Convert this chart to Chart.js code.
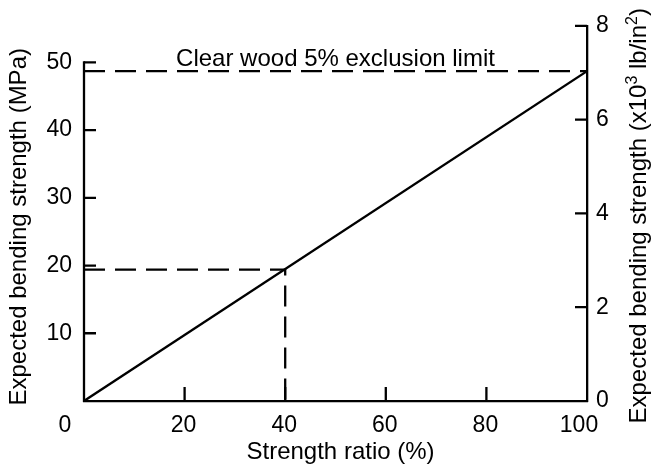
<!DOCTYPE html>
<html>
<head>
<meta charset="utf-8">
<script src="https://cdn.jsdelivr.net/npm/chart.js@4"></script>
<style>
  html, body { margin: 0; padding: 0; background: #fff; }
  #wrap { width: 651px; height: 468px; }
</style>
</head>
<body>
<div id="wrap"><canvas id="chart" width="651" height="468"></canvas></div>
<script>
// =============================
// Data
// =============================
const strengthRatio = [0, 100];
const bendingMPa = [0, 48.7];
const exclusionX = [0, 100];
const exclusionY = [48.7, 48.7];
const exampleX = [0, 40, 40];
const exampleY = [19.4, 19.4, 0];

const xTicks = [0, 20, 40, 60, 80, 100];
const mpaTicks = [10, 20, 30, 40, 50];
const ksiTicks = [0, 2, 4, 6, 8];

const noteText = "Clear wood 5% exclusion limit";
const xTitle = "Strength ratio (%)";
const leftTitle = "Expected bending strength (MPa)";
// right title pieces: [text, superscript?]
const rightTitle = [["Expected bending strength (x10", false], ["3", true], [" lb/in", false], ["2", true], [")", false]];

const FONT = '"Liberation Sans", Arial, Helvetica, sans-serif';
const pts = (xs, ys) => xs.map((v, i) => ({ x: v, y: ys[i] }));

// =============================
// Extra drawing: inward ticks, short left axis, titles, note
// =============================
const axisExtras = {
  id: "axisExtras",
  afterDraw(chart) {
    const { ctx, chartArea: a, scales } = chart;
    const x = scales.x, y = scales.y, y2 = scales.y2;
    ctx.save();
    ctx.strokeStyle = "#000";
    ctx.lineWidth = 2.3;

    // left axis line only up to 50 MPa
    ctx.beginPath();
    ctx.moveTo(a.left, y.getPixelForValue(0) + 1);
    ctx.lineTo(a.left, y.getPixelForValue(50) - 1);
    ctx.stroke();

    // inward tick marks
    ctx.beginPath();
    mpaTicks.forEach(v => {
      const py = y.getPixelForValue(v);
      ctx.moveTo(a.left, py);
      ctx.lineTo(a.left + 12, py);
    });
    xTicks.slice(1, -1).forEach(v => {
      const px = x.getPixelForValue(v);
      ctx.moveTo(px, a.bottom);
      ctx.lineTo(px, a.bottom - 14);
    });
    ksiTicks.slice(1).forEach(v => {
      const py = y2.getPixelForValue(v);
      ctx.moveTo(a.right, py);
      ctx.lineTo(a.right - 12, py);
    });
    ctx.stroke();

    ctx.fillStyle = "#000";

    // x tick labels (corner ones nudged left like the original)
    ctx.font = "23px " + FONT;
    ctx.textAlign = "center";
    ctx.textBaseline = "middle";
    xTicks.forEach(v => {
      let dx = -1;
      if (v === 0) dx = -19;
      if (v === 100) dx = -8;
      ctx.fillText(String(v), x.getPixelForValue(v) + dx, a.bottom + 25);
    });

    // note above exclusion line
    ctx.font = "24px " + FONT;
    ctx.textBaseline = "alphabetic";
    ctx.fillText(noteText, x.getPixelForValue(50), y.getPixelForValue(exclusionY[0]) - 5);

    // x title
    ctx.fillText(xTitle, x.getPixelForValue(51), a.bottom + 58);

    // left title
    ctx.save();
    ctx.translate(26, a.top + 201);
    ctx.rotate(-Math.PI / 2);
    ctx.textAlign = "center";
    ctx.fillText(leftTitle, 0, 0);
    ctx.restore();

    // right title with superscripts
    ctx.save();
    ctx.translate(a.right + 59, a.top + 190);
    ctx.rotate(-Math.PI / 2);
    ctx.textAlign = "left";
    const big = "24px " + FONT, small = "16px " + FONT;
    let total = 0;
    rightTitle.forEach(([t, sup]) => { ctx.font = sup ? small : big; total += ctx.measureText(t).width; });
    let cx = -total / 2;
    rightTitle.forEach(([t, sup]) => {
      ctx.font = sup ? small : big;
      ctx.fillText(t, cx, sup ? -9 : 0);
      cx += ctx.measureText(t).width;
    });
    ctx.restore();

    ctx.restore();
  }
};

// =============================
// Chart
// =============================
const lineStyle = { borderColor: "#000", borderWidth: 2.3, pointRadius: 0, showLine: true, fill: false, tension: 0 };

new Chart(document.getElementById("chart"), {
  type: "scatter",
  data: {
    datasets: [
      Object.assign({ label: "Expected strength", data: pts(strengthRatio, bendingMPa) }, lineStyle),
      Object.assign({ label: "Exclusion limit", data: pts(exclusionX, exclusionY), borderDash: [21, 10] }, lineStyle),
      Object.assign({ label: "Example", data: pts(exampleX, exampleY), borderDash: [21, 10] }, lineStyle)
    ]
  },
  options: {
    responsive: false,
    animation: false,
    devicePixelRatio: 1,
    layout: { padding: { top: 24, left: 0, right: 0, bottom: 0 } },
    plugins: { legend: { display: false }, tooltip: { enabled: false } },
    scales: {
      x: {
        type: "linear",
        position: "bottom",
        min: 0, max: 100,
        grid: { display: false, drawTicks: false },
        border: { display: true, color: "#000", width: 2.3 },
        ticks: { display: false, stepSize: 20 },
        afterFit: s => { s.height = 67; }
      },
      y: {
        type: "linear",
        position: "left",
        min: 0, max: 55.4,
        grid: { display: false, drawTicks: false },
        border: { display: false },
        ticks: {
          stepSize: 10,
          includeBounds: false,
          padding: 12,
          color: "#000",
          font: { family: FONT, size: 23 },
          callback: v => (mpaTicks.includes(v) ? String(v) : "")
        },
        afterFit: s => { s.width = 84; }
      },
      y2: {
        type: "linear",
        position: "right",
        min: 0, max: 8,
        grid: { display: false, drawTicks: false },
        border: { display: true, color: "#000", width: 2.3 },
        ticks: {
          stepSize: 2,
          padding: 9,
          color: "#000",
          font: { family: FONT, size: 23 },
          callback: v => (ksiTicks.includes(v) ? String(v) : "")
        },
        afterFit: s => { s.width = 64; }
      }
    }
  },
  plugins: [axisExtras]
});
</script>
</body>
</html>
